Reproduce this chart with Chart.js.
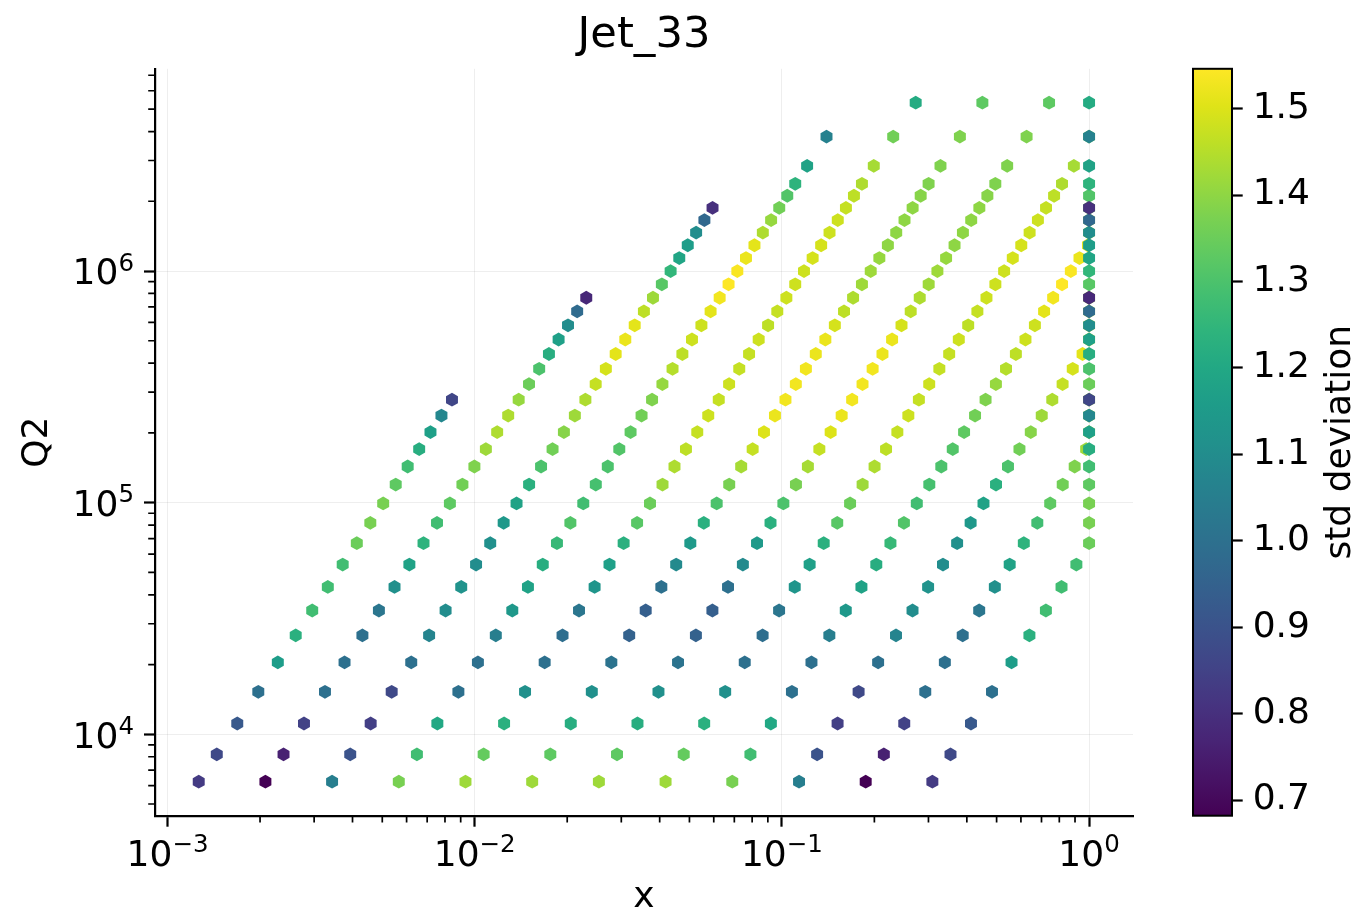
<!DOCTYPE html>
<html>
<head>
<meta charset="utf-8">
<script src="https://cdn.jsdelivr.net/npm/chart.js@4.4.0/dist/chart.umd.min.js"></script>
<style>
html,body{margin:0;padding:0;background:#fff;}
#wrap{position:relative;width:1358px;height:919px;background:#fff;overflow:hidden;}
#main{position:absolute;left:0;top:0;width:1358px;height:919px;}
#cbar{position:absolute;left:1100px;top:0;width:258px;height:919px;}
</style>
</head>
<body>
<div id="wrap">
<canvas id="main" width="1358" height="919"></canvas>
<canvas id="cbar" width="258" height="919"></canvas>
</div>
<script>
// ---------------- data ----------------
// Q2 of each pT row (bottom to top)
const Q2_BINS = [6241, 8190, 11130, 15252, 20449, 26732, 34225, 43264, 54056, 66822,
  81796, 99225, 119716, 143262, 170156, 201601, 237656, 278256, 324900, 378225,
  438244, 506232, 582932, 669124, 766500, 876096, 999000, 1137422, 1291632, 1464100,
  1657656, 1872792, 2112662, 2379306, 2842596, 3802500, 5326864];

// rapidity bin 0 (two innermost diagonals)
const X_LO_Y0 = [0.01538,0.01762,0.02054,0.02405,0.02784,0.03183,0.03602,0.04050,0.04527,0.05033,
  0.05568,0.06133,0.06737,0.07369,0.08031,0.08742,0.09492,0.1027,0.1110,0.1197,
  0.1289,0.1385,0.1487,0.1593,0.1705,0.1822,0.1946,0.2076,0.2213,0.2356,
  0.2507,0.2664,0.2830,0.3003,0.3283,0.3797,0.4494];
const X_HI_Y0 = [0.02536,0.02905,0.03387,0.03964,0.04590,0.05248,0.05939,0.06677,0.07463,0.08298,
  0.09181,0.1011,0.1111,0.1215,0.1324,0.1441,0.1565,0.1693,0.1830,0.1974,
  0.2125,0.2284,0.2451,0.2626,0.2810,0.3005,0.3208,0.3424,0.3648,0.3884,
  0.4133,0.4393,0.4666,0.4952,0.5412,0.6260,0.7409];
const STD_Y0 = [1.42,1.33,1.22,1.11,1.01,0.95,0.94,1.00,1.09,1.15,
  1.23,1.30,1.37,1.43,1.47,1.50,1.52,1.53,1.53,1.53,
  1.52,1.52,1.49,1.46,1.44,1.42,1.42,1.41,1.40,1.40,
  1.40,1.40,1.39,1.38,1.38,1.38,1.33];

// rapidity bin 1
const X_LO_Y1 = [0.009329,0.01069,0.01246,0.01458,0.01689,0.01931,0.02185,0.02456,0.02746,0.03053,
  0.03377,0.03720,0.04086,0.04470,0.04871,0.05302,0.05757,0.06229,0.06731,0.07263,
  0.07818,0.08402,0.09016,0.09660,0.1034,0.1105,0.1180,0.1259,0.1342,0.1429,
  0.1520,0.1616,0.1716,0.1822,0.1991,0.2303,0.2726];
const X_HI_Y1 = [0.04181,0.04790,0.05584,0.06536,0.07568,0.08653,0.09791,0.1101,0.1231,0.1368,
  0.1514,0.1667,0.1831,0.2003,0.2183,0.2376,0.2580,0.2792,0.3017,0.3255,
  0.3504,0.3766,0.4041,0.4329,0.4634,0.4954,0.5290,0.5644,0.6015,0.6404,
  0.6814,0.7243,0.7693,0.8164,0.8923,1,1];
const STD_Y1 = [1.42,1.34,1.23,1.11,1.00,0.99,1.02,1.13,1.17,1.23,
  1.32,1.35,1.42,1.44,1.46,1.47,1.48,1.47,1.48,1.47,
  1.47,1.48,1.46,1.47,1.48,1.48,1.48,1.49,1.49,1.48,
  1.48,1.47,1.46,1.44,1.43,1.36,1.21];

// rapidity bin 2
const X_LO_Y2 = [0.005659,0.006482,0.007556,0.008846,0.01024,0.01171,0.01325,0.01490,0.01665,0.01852,
  0.02048,0.02256,0.02478,0.02711,0.02955,0.03216,0.03492,0.03778,0.04083,0.04405,
  0.04742,0.05096,0.05469,0.05859,0.06271,0.06704,0.07159,0.07639,0.08140,0.08667,
  0.09222,0.09802,0.1041,0.1105,0.1208,0.1397];
const X_HI_Y2 = [0.06893,0.07897,0.09206,0.1078,0.1248,0.1427,0.1614,0.1815,0.2029,0.2256,
  0.2496,0.2749,0.3019,0.3303,0.3599,0.3918,0.4254,0.4603,0.4974,0.5366,
  0.5777,0.6208,0.6662,0.7138,0.7639,0.8167,0.8722,0.9306,0.9917,1,
  1,1,1,1,1,1];
const STD_Y2 = [1.37,1.28,1.20,1.00,1.00,1.05,1.14,1.18,1.22,1.26,
  1.31,1.28,1.29,1.30,1.31,1.33,1.36,1.38,1.41,1.45,
  1.46,1.48,1.48,1.51,1.53,1.546,1.54,1.52,1.51,1.44,
  1.41,1.36,1.31,1.24,1.18,1.06];

// rapidity bin 3
const X_LO_Y3 = [0.003432,0.003932,0.004583,0.005365,0.006212,0.007103,0.008037,0.009036,0.01010,0.01123,
  0.01242,0.01368,0.01503,0.01644,0.01792,0.01951,0.02118,0.02292,0.02476,0.02672,
  0.02876,0.03091,0.03317,0.03554,0.03804,0.04066,0.04342,0.04633,0.04937,0.05257,
  0.05593,0.05945];
const X_HI_Y3 = [0.1137,0.1302,0.1518,0.1777,0.2057,0.2352,0.2662,0.2992,0.3345,0.3719,
  0.4115,0.4532,0.4978,0.5445,0.5934,0.6460,0.7013,0.7589,0.8200,0.8848,
  0.9524,1,1,1,1,1,1,1,1,1,
  1,1];
const STD_Y3 = [1.05,0.90,0.84,0.87,1.00,1.07,1.10,1.12,1.10,1.11,
  1.14,1.18,1.23,1.30,1.36,1.39,1.42,1.44,1.47,1.49,
  1.51,1.52,1.51,1.46,1.42,1.32,1.25,1.19,1.16,1.10,
  0.97,0.80];

// rapidity bin 4
const X_LO_Y4 = [0.002082,0.002385,0.002780,0.003254,0.003768,0.004308,0.004875,0.005481,0.006126,0.006811,
  0.007536,0.008300,0.009117,0.009974,0.01087,0.01183,0.01285,0.01390,0.01502,0.01621,
  0.01744,0.01875,0.02012,0.02155,0.02307];
const X_HI_Y4 = [0.1874,0.2147,0.2502,0.2929,0.3392,0.3878,0.4388,0.4934,0.5515,0.6131,
  0.6784,0.7472,0.8207,0.8978,0.9784,1,1,1,1,1,
  1,1,1,1,1];
const STD_Y4 = [0.682,0.76,0.85,1.00,1.00,1.00,1.02,1.11,1.18,1.24,
  1.28,1.33,1.36,1.38,1.42,1.44,1.44,1.41,1.35,1.30,
  1.22,1.17,1.10,0.98,0.78];

// rapidity bin 5 (outermost diagonals)
const X_LO_Y5 = [0.001263,0.001446,0.001686,0.001974,0.002285,0.002613,0.002957,0.003324,0.003716,0.004131,
  0.004571,0.005034,0.005530,0.006049,0.006593,0.007176,0.007791,0.008431];
const X_HI_Y5 = [0.3089,0.3539,0.4126,0.4830,0.5592,0.6394,0.7235,0.8134,0.9092,1,
  1,1,1,1,1,1,1,1];
const STD_Y5 = [0.83,0.87,0.92,1.00,1.16,1.23,1.28,1.28,1.28,1.35,
  1.37,1.37,1.33,1.28,1.22,1.17,1.08,0.86];

// axes / ticks
const X_TICKS = [0.001, 0.01, 0.1, 1];
const X_TICK_EXP = ['\u22123', '\u22122', '\u22121', '0'];
const Y_TICKS = [1e4, 1e5, 1e6];
const Y_TICK_EXP = ['4', '5', '6'];
const CBAR_TICKS = [0.7, 0.8, 0.9, 1.0, 1.1, 1.2, 1.3, 1.4, 1.5];
const CBAR_TICK_LABELS = ['0.7', '0.8', '0.9', '1.0', '1.1', '1.2', '1.3', '1.4', '1.5'];
const X_MIN = 9.10e-4, X_MAX = 1.390;
const Y_MIN = 4452, Y_MAX = 7.463e6;

// ---------------- styling ----------------
const HEX_R = 6.9;
const GRID_COLOR = 'rgba(0,0,0,0.065)';
const FONT = "'DejaVu Sans', sans-serif";
const TICK_PX = 36, SUP_PX = 24.5;
Chart.defaults.font.family = FONT;
Chart.defaults.color = '#000';

const VIRIDIS = ['#440154','#471365','#482475','#463480','#414487','#3b528b','#355f8d',
  '#2f6c8e','#2a788e','#25848e','#21918c','#1e9c89','#22a884','#2fb47c','#44bf70',
  '#5ec962','#7ad151','#9bd93c','#bddf26','#dfe318','#fde725'];
function hexToRgb(h){ return [parseInt(h.slice(1,3),16), parseInt(h.slice(3,5),16), parseInt(h.slice(5,7),16)]; }
const VIR_RGB = VIRIDIS.map(hexToRgb);
function viridis(t){
  t = Math.max(0, Math.min(1, t));
  const f = t * (VIR_RGB.length - 1);
  const i = Math.min(VIR_RGB.length - 2, Math.floor(f));
  const u = f - i;
  const a = VIR_RGB[i], b = VIR_RGB[i+1];
  return 'rgb(' + [0,1,2].map(k => Math.round(a[k] + (b[k]-a[k])*u)).join(',') + ')';
}

const GROUPS = [
  [X_LO_Y0, X_HI_Y0, STD_Y0],
  [X_LO_Y1, X_HI_Y1, STD_Y1],
  [X_LO_Y2, X_HI_Y2, STD_Y2],
  [X_LO_Y3, X_HI_Y3, STD_Y3],
  [X_LO_Y4, X_HI_Y4, STD_Y4],
  [X_LO_Y5, X_HI_Y5, STD_Y5]
];
const points = [];
GROUPS.forEach(([lo, hi, sd]) => {
  for (let r = 0; r < sd.length; r++) {
    points.push({x: lo[r], y: Q2_BINS[r], v: sd[r]});
    points.push({x: hi[r], y: Q2_BINS[r], v: sd[r]});
  }
});
const allStd = GROUPS.flatMap(g => g[2]);
const VMIN = Math.min(...allStd), VMAX = Math.max(...allStd);
const colorFor = v => viridis((v - VMIN) / (VMAX - VMIN));

// hexagon markers at the library-computed point positions
const hexPlugin = {
  id: 'hexMarkers',
  afterDatasetsDraw(chart) {
    const ctx = chart.ctx;
    const meta = chart.getDatasetMeta(0);
    const data = chart.data.datasets[0].data;
    ctx.save();
    meta.data.forEach((el, i) => {
      const p = el.getProps(['x', 'y'], true);
      ctx.fillStyle = colorFor(data[i].v);
      ctx.beginPath();
      for (let k = 0; k < 6; k++) {
        const a = Math.PI / 2 + k * Math.PI / 3;
        const px = p.x + HEX_R * Math.cos(a), py = p.y - HEX_R * Math.sin(a);
        if (k === 0) ctx.moveTo(px, py); else ctx.lineTo(px, py);
      }
      ctx.closePath();
      ctx.fill();
    });
    ctx.restore();
  }
};

// minor log ticks + power-of-ten tick labels (positions from the scales)
const axisDecor = {
  id: 'axisDecor',
  afterDraw(chart) {
    const {ctx, chartArea} = chart;
    const xs = chart.scales.x, ys = chart.scales.y;
    ctx.save();
    ctx.strokeStyle = '#000';
    ctx.lineWidth = 1.7;
    ctx.beginPath();
    for (let e = -4; e <= 0; e++) {
      for (let m = 2; m <= 9; m++) {
        const v = m * Math.pow(10, e);
        if (v <= X_MIN || v >= X_MAX) continue;
        const px = xs.getPixelForValue(v);
        ctx.moveTo(px, chartArea.bottom);
        ctx.lineTo(px, chartArea.bottom + 6.8);
      }
    }
    for (let e = 3; e <= 6; e++) {
      for (let m = 2; m <= 9; m++) {
        const v = m * Math.pow(10, e);
        if (v <= Y_MIN || v >= Y_MAX) continue;
        const py = ys.getPixelForValue(v);
        ctx.moveTo(chartArea.left, py);
        ctx.lineTo(chartArea.left - 6.8, py);
      }
    }
    ctx.stroke();

    ctx.fillStyle = '#000';
    ctx.textBaseline = 'alphabetic';
    ctx.textAlign = 'left';
    const bigFont = TICK_PX + 'px ' + FONT, supFont = SUP_PX + 'px ' + FONT;
    function measure(exp) {
      ctx.font = bigFont; const w1 = ctx.measureText('10').width;
      ctx.font = supFont; const w2 = ctx.measureText(exp).width;
      return [w1, w2];
    }
    function draw(exp, x0, base, w1) {
      ctx.font = bigFont; ctx.fillText('10', x0, base);
      ctx.font = supFont; ctx.fillText(exp, x0 + w1, base - 13.7);
    }
    X_TICKS.forEach((v, i) => {
      const px = xs.getPixelForValue(v);
      const [w1, w2] = measure(X_TICK_EXP[i]);
      draw(X_TICK_EXP[i], px - (w1 + w2) / 2, chartArea.bottom + 50.3, w1);
    });
    Y_TICKS.forEach((v, i) => {
      const py = ys.getPixelForValue(v);
      const [w1, w2] = measure(Y_TICK_EXP[i]);
      draw(Y_TICK_EXP[i], 134 - (w1 + w2), py + 13.3, w1);
    });
    ctx.restore();
  }
};

new Chart(document.getElementById('main'), {
  type: 'scatter',
  data: { datasets: [{ data: points, pointRadius: 0, pointHoverRadius: 0, pointHitRadius: 0 }] },
  options: {
    responsive: false,
    animation: false,
    events: [],
    layout: { padding: { left: 0, right: 225, top: 0, bottom: 0 } },
    plugins: {
      legend: { display: false },
      tooltip: { enabled: false },
      title: {
        display: true, text: 'Jet_33', fullSize: false, color: '#000',
        font: { size: 43.2, weight: 'normal', family: FONT, lineHeight: 1.2 },
        padding: { top: 10.1, bottom: 6.86 }
      }
    },
    scales: {
      x: {
        type: 'logarithmic', position: 'bottom', min: X_MIN, max: X_MAX,
        afterBuildTicks: s => { s.ticks = X_TICKS.map(v => ({ value: v, major: true })); },
        afterFit: s => { s.height = 103.3; },
        ticks: { display: false, autoSkip: false },
        grid: { color: GRID_COLOR, lineWidth: 1, tickLength: 11, tickWidth: 2.2, tickColor: '#000' },
        border: { display: true, color: '#000', width: 2.2 },
        title: { display: true, text: 'x', color: '#000', font: { size: 36 }, padding: { top: 0, bottom: 0 } }
      },
      y: {
        type: 'logarithmic', position: 'left', min: Y_MIN, max: Y_MAX,
        afterBuildTicks: s => { s.ticks = Y_TICKS.map(v => ({ value: v, major: true })); },
        afterFit: s => { s.width = 155; },
        ticks: { display: false, autoSkip: false },
        grid: { color: GRID_COLOR, lineWidth: 1, tickLength: 11, tickWidth: 2.2, tickColor: '#000' },
        border: { display: true, color: '#000', width: 2.2 },
        title: { display: true, text: 'Q2', color: '#000', font: { size: 36 }, padding: { top: 15.9, bottom: 0 } }
      }
    }
  },
  plugins: [hexPlugin, axisDecor]
});

// ---------------- colorbar ----------------
const cbarPlugin = {
  id: 'cbarFill',
  beforeDatasetsDraw(chart) {
    const {ctx, chartArea: a} = chart;
    const g = ctx.createLinearGradient(0, a.bottom, 0, a.top);
    VIRIDIS.forEach((c, i) => g.addColorStop(i / (VIRIDIS.length - 1), c));
    ctx.save();
    ctx.fillStyle = g;
    ctx.fillRect(a.left, a.top, a.right - a.left, a.bottom - a.top);
    ctx.restore();
  },
  afterDraw(chart) {
    const {ctx, chartArea: a} = chart;
    ctx.save();
    ctx.strokeStyle = '#000';
    ctx.lineWidth = 2;
    ctx.strokeRect(a.left, a.top, a.right - a.left, a.bottom - a.top);
    ctx.translate(250, (a.top + a.bottom) / 2);
    ctx.rotate(-Math.PI / 2);
    ctx.fillStyle = '#000';
    ctx.font = "36px " + FONT;
    ctx.textAlign = 'center';
    ctx.textBaseline = 'alphabetic';
    ctx.fillText('std deviation', 0, 0);
    ctx.restore();
  }
};

new Chart(document.getElementById('cbar'), {
  type: 'scatter',
  data: { datasets: [] },
  options: {
    responsive: false,
    animation: false,
    events: [],
    layout: { padding: { left: 93, right: 0, top: 68.8, bottom: 103.3 } },
    plugins: { legend: { display: false }, tooltip: { enabled: false }, title: { display: false } },
    scales: {
      x: { display: false, min: 0, max: 1 },
      y: {
        type: 'linear', position: 'right', min: VMIN, max: VMAX,
        afterBuildTicks: s => { s.ticks = CBAR_TICKS.map(v => ({ value: v })); },
        afterFit: s => { s.width = 126; },
        ticks: { callback: (v, i) => CBAR_TICK_LABELS[i], font: { size: 36 }, color: '#000', padding: 10, autoSkip: false },
        grid: { drawOnChartArea: false, tickLength: 10.7, tickWidth: 2.2, tickColor: '#000' },
        border: { display: false }
      }
    }
  },
  plugins: [cbarPlugin]
});
</script>
</body>
</html>
